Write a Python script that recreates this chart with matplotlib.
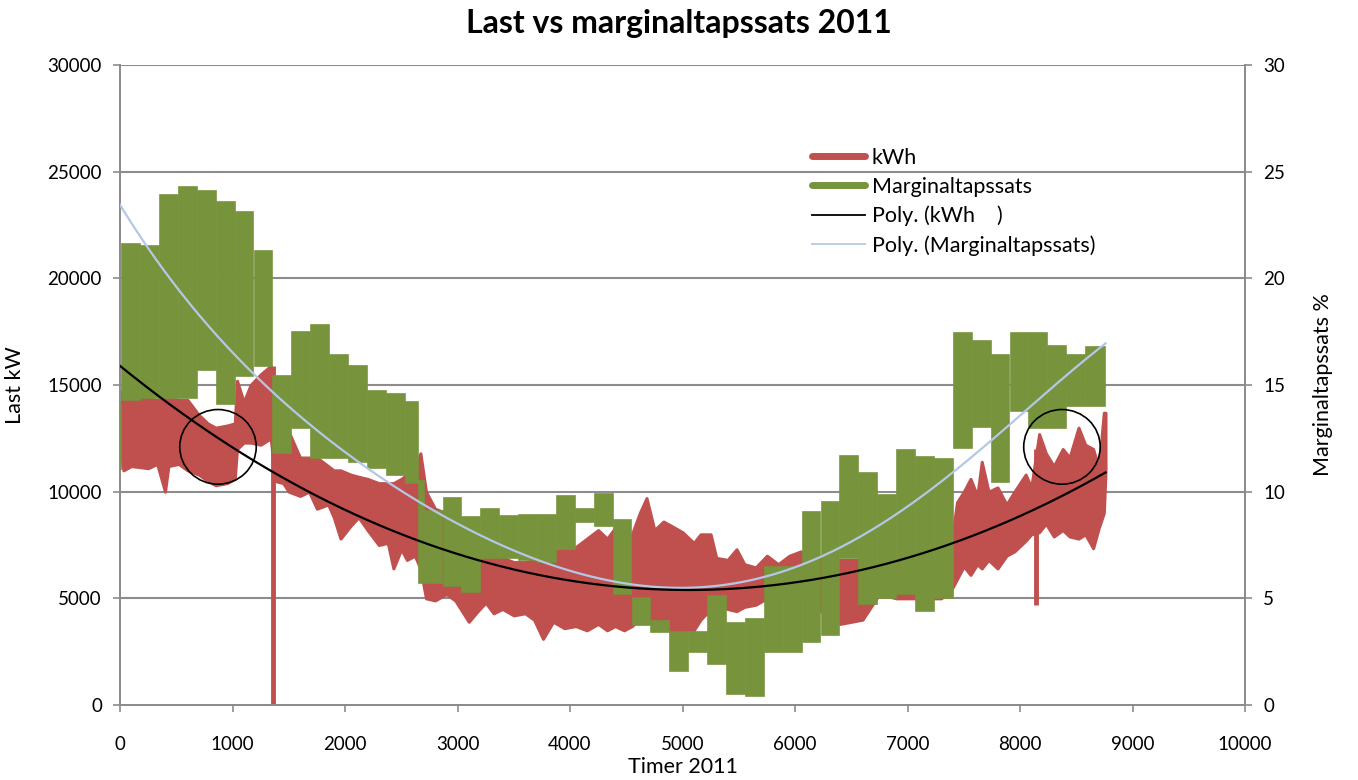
import numpy as np
import matplotlib
matplotlib.use("Agg")
import matplotlib.pyplot as plt
from matplotlib.lines import Line2D
from matplotlib.patches import Ellipse

plt.rcParams['font.family'] = ['Lato', 'DejaVu Sans']

# ---------------- data ----------------
# kWh (left axis) : envelope of the hourly load (hour, low, high)
red_h  = [0, 30, 100, 250, 330, 400, 430, 520, 600, 700, 780, 850, 950, 1020, 1040, 1100,
          1160, 1250, 1340, 1380, 1450, 1500, 1600, 1680, 1750, 1850, 1900, 1960, 2050,
          2120, 2200, 2300, 2380, 2430, 2500, 2550, 2620, 2670, 2720, 2800, 2900, 2980,
          3100, 3180, 3250, 3320, 3400, 3500, 3600, 3680, 3760, 3850, 3950, 4050, 4150,
          4250, 4330, 4400, 4480, 4550, 4620, 4680, 4750, 4830, 4900, 5000, 5100, 5160,
          5250, 5300, 5400, 5480, 5550, 5650, 5750, 5850, 5950, 6050, 6200, 6400, 6600,
          6750, 6900, 7100, 7300, 7400, 7440, 7500, 7560, 7620, 7660, 7720, 7800, 7880,
          7950, 8050, 8100, 8170, 8230, 8300, 8380, 8440, 8520, 8580, 8650, 8700, 8745, 8760]
red_lo = [12200, 11000, 11200, 11100, 11300, 10000, 11200, 11300, 11000, 10800, 10500, 10300, 10400, 10600, 12000, 12300,
          12300, 12200, 12500, 10500, 10400, 10000, 9800, 10000, 9200, 9400, 8800, 7800, 8400,
          8800, 8200, 7500, 7600, 6400, 7300, 6800, 7000, 6400, 5000, 4900, 5200, 4900,
          3900, 4400, 4800, 4300, 4500, 4200, 4300, 4000, 3100, 3900, 3600, 3700, 3500,
          3800, 3500, 3700, 3500, 3700, 4000, 4000, 3800, 3600, 3500, 3400, 3500, 4000,
          4500, 4800, 4500, 4400, 4600, 4700, 5000, 5000, 5200, 5200, 4500, 3800, 4000,
          5200, 5000, 5000, 5000, 5500, 5900, 6500, 6100, 6600, 6400, 6800, 6400, 7000,
          7200, 7700, 8000, 8100, 8500, 7900, 8200, 7900, 7800, 8000, 7350, 8300, 9000, 10900]
red_hi = [14700, 14700, 14400, 14400, 14300, 14400, 14400, 14300, 14300, 13600, 13200, 13000, 13100, 13200, 15200, 14200,
          15000, 15500, 15900, 13000, 12600, 12800, 11600, 11600, 11600, 11200, 11000, 11000, 10800,
          10700, 10600, 10400, 10400, 10400, 10600, 10800, 10900, 11800, 10000, 9200, 9000, 8500,
          8000, 7500, 7000, 6900, 6900, 6700, 6700, 6800, 6800, 7200, 7300, 7400, 7800,
          8200, 7800, 8300, 8000, 8000, 9000, 9700, 8200, 8600, 8400, 8100, 7600, 8000,
          8000, 6900, 6800, 7300, 6600, 6450, 7000, 6600, 7000, 7200, 7000, 6800, 6800,
          6200, 6500, 6500, 6500, 8000, 9500, 10000, 10600, 9800, 11400, 10000, 10200, 9400,
          10000, 10800, 10200, 12700, 11800, 11200, 12000, 11600, 13000, 12200, 12000, 11100, 13700, 13700]
# single-hour outliers in the load series (hour, low, high)
spike_h  = [1360, 8140]
spike_lo = [0, 4700]
spike_hi = [15900, 12000]

# Marginaltapssats (right axis): weekly range (start hour, end hour, high %, low %)
green_start = [0, 15, 183, 351, 519, 687, 855, 1023, 1191, 1359, 1527, 1695, 1863, 2031,
               2199, 2367, 2535, 2652, 2703, 2871, 3039, 3207, 3375, 3543, 3711, 3879,
               4047, 4215, 4383, 4551, 4719, 4887, 5055, 5223, 5391, 5559, 5727, 5895,
               6063, 6231, 6399, 6567, 6735, 6903, 7071, 7239, 7407, 7575, 7743, 7911,
               8079, 8247, 8415, 8583]
green_end = green_start[1:] + [8760]
green_high = [14.1, 21.6, 21.5, 23.9, 24.3, 24.1, 23.6, 23.1, 21.3, 15.4, 17.5, 17.8, 16.4, 15.9,
              14.7, 14.6, 14.2, 10.5, 9.1, 9.7, 8.8, 9.2, 8.85, 8.9, 8.9, 9.8,
              9.2, 9.9, 8.65, 5.0, 3.95, 3.4, 3.4, 5.1, 3.85, 4.05, 6.45, 6.45,
              9.05, 9.5, 11.65, 10.87, 9.86, 11.95, 11.63, 11.55, 17.42, 17.05, 16.42, 17.42,
              17.42, 16.83, 16.41, 16.78]
green_low = [11.0, 14.3, 14.4, 14.4, 14.4, 15.7, 14.1, 15.4, 15.9, 11.8, 13.0, 11.6, 11.6, 11.4,
             11.1, 10.8, 10.4, 5.7, 5.7, 5.6, 5.3, 6.9, 6.9, 6.8, 6.7, 7.3,
             8.6, 8.4, 5.2, 3.75, 3.4, 1.6, 2.5, 1.9, 0.5, 0.4, 2.5, 2.5,
             2.95, 3.3, 6.9, 4.75, 5.0, 5.2, 4.42, 5.0, 12.05, 13.05, 10.46, 13.8,
             13.0, 13.0, 14.0, 14.0]

# points
trend_kwh_h = [0, 252, 548, 844, 1200, 1644, 1896, 2193, 2489, 2785, 3081, 3289, 3837,
               4430, 4933, 5422, 5630, 6074, 6578, 7126, 7719, 8222, 8756]
trend_kwh_v = [15950, 14900, 13560, 12550, 11540, 10200, 9190, 8520, 8020, 7520, 7100, 6710, 6090,
               5590, 5340, 5340, 5420, 5750, 6260, 7180, 8360, 9450, 10790]
trend_mt_h = [0, 252, 548, 844, 1200, 1644, 1896, 2193, 2489, 2785, 3081, 3289, 3837,
              4430, 4933, 5274, 5630, 6074, 6578, 7126, 7422, 7719, 8015, 8222, 8760]
trend_mt_v = [23.45, 21.53, 19.09, 17.25, 15.57, 13.56, 12.38, 11.12, 10.12, 8.94, 8.19, 7.52, 6.68,
              5.75, 5.59, 5.59, 6.09, 6.68, 7.7, 9.45, 10.87, 12.38, 13.89, 14.73, 16.8]

# highlighted circles (hour, kW)
circle_h = [871, 8373]
circle_v = [12100, 12100]

x_ticks = list(range(0, 10001, 1000))
left_ticks = list(range(0, 30001, 5000))
right_ticks = list(range(0, 31, 5))

RED = '#C0504D'
GREEN = '#77933C'
LBLUE = '#B4C8E6'
GRID = '#8C8C8C'

# ---------------- figure ----------------
fig = plt.figure(figsize=(13.58, 7.8), dpi=100)
ax = fig.add_axes([120 / 1358, 1 - 705 / 780, 1125 / 1358, 640 / 780])
ax2 = ax.twinx()

ax.set_xlim(0, 10000)
ax.set_ylim(0, 30000)
ax2.set_ylim(0, 30)

for v in left_ticks[1:]:
    ax.axhline(v, color=GRID, lw=1.5, zorder=0)

# kWh load
ax.fill_between(red_h, red_lo, red_hi, color=RED, lw=2.2, edgecolor=RED, zorder=2)
ax.vlines(spike_h, spike_lo, spike_hi, color=RED, lw=3.5, zorder=2)

# Marginaltapssats weekly blocks
widths = [e - s for s, e in zip(green_start, green_end)]
heights = [h - l for h, l in zip(green_high, green_low)]
ax2.bar([s + 5 for s in green_start], heights, bottom=green_low,
        width=[w - 10 for w in widths], align='edge', color=GREEN,
        edgecolor=GREEN, linewidth=1.2, zorder=3)

# trend lines (polynomial fits of the read points)
hh = np.linspace(0, 8760, 400)
pk = np.polyfit(trend_kwh_h, trend_kwh_v, 4)
pm = np.polyfit(trend_mt_h, trend_mt_v, 5)
ax2.plot(hh, np.polyval(pm, hh), color=LBLUE, lw=1.6, zorder=4)
ax2.plot(hh, np.polyval(pk, hh) / 1000.0, color='black', lw=1.6, zorder=5)

# circles
for ch, cv in zip(circle_h, circle_v):
    ax2.add_patch(Ellipse((ch, cv / 1000.0), width=680, height=3.5,
                          fill=False, edgecolor='black', lw=1.2, zorder=6))

# axes styling
ax.set_xticks(x_ticks)
ax.set_yticks(left_ticks)
ax2.set_yticks(right_ticks)
for a in (ax, ax2):
    for sp in a.spines.values():
        sp.set_color(GRID)
        sp.set_linewidth(1.3)
    a.spines['top'].set_visible(False)
    a.tick_params(colors='black', labelsize=13.5, length=5, width=1.2, color=GRID)
ax.tick_params(axis='x', pad=17)
ax.tick_params(axis='y', pad=8)
ax2.tick_params(axis='y', pad=8)

ax.set_xlabel('Timer 2011', fontsize=15.5, labelpad=3)
ax.set_ylabel('Last kW', fontsize=15.5, labelpad=16)
ax2.set_ylabel('Marginaltapssats %', fontsize=15.5, labelpad=20)

fig.text(0.5, 1 - 23 / 780, 'Last vs marginaltapssats 2011', ha='center', va='center',
         fontsize=23, fontweight='bold')

handles = [Line2D([], [], color=RED, lw=5, solid_capstyle='round'),
           Line2D([], [], color=GREEN, lw=5, solid_capstyle='round'),
           Line2D([], [], color='black', lw=1.3),
           Line2D([], [], color=LBLUE, lw=1.3)]
labels = ['kWh', 'Marginaltapssats', 'Poly. (kWh    )', 'Poly. (Marginaltapssats)']
leg = ax2.legend(handles, labels, loc='upper left', bbox_to_anchor=(683 / 1125, 1 - 74 / 640),
                 frameon=False, fontsize=15.5, handlelength=2.5, handletextpad=0.3,
                 labelspacing=0.42, borderaxespad=0)
leg.set_zorder(10)

fig.savefig('out.png', dpi=100)
